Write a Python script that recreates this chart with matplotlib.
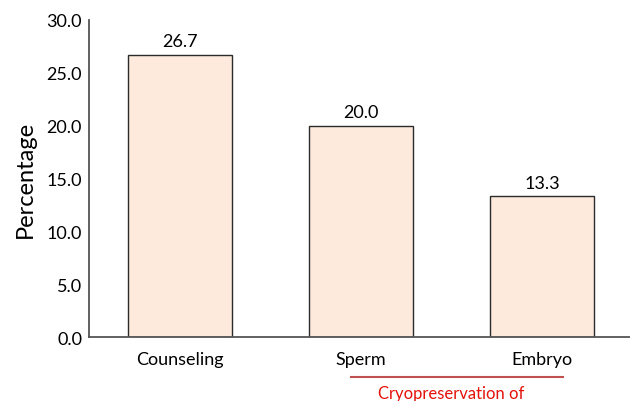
import matplotlib.pyplot as plt
import numpy as np

categories = ["Counseling", "Sperm", "Embryo"]
percentages = [26.7, 20.0, 13.3]
yticks = [0, 5, 10, 15, 20, 25, 30]
group_label = "Cryopreservation of"

plt.rcParams['font.family'] = ['Lato', 'DejaVu Sans']

fig = plt.figure(figsize=(6.3, 4.02), dpi=100)
ax = fig.add_axes([0.1413, 0.1592, 0.8587, 0.7886])

x = np.arange(len(categories))
bars = ax.bar(x, percentages, width=0.575, color="#fdeadc",
              edgecolor="#2b2b2b", linewidth=1.0)

for xi, v in zip(x, percentages):
    ax.text(xi, v + 0.55, f"{v:.1f}", ha="center", va="bottom", fontsize=13)

ax.set_xlim(-0.503, 2.486)
ax.set_ylim(0, 30)
ax.set_xticks(x)
ax.set_xticklabels(categories, fontsize=13)
ax.set_yticks(yticks)
ax.set_yticklabels([f"{t:.1f}" for t in yticks], fontsize=13)
ax.tick_params(length=0, pad=5)
ax.tick_params(axis='x', pad=10)
ax.set_ylabel("Percentage", fontsize=17, labelpad=8)

for side in ["top", "right"]:
    ax.spines[side].set_visible(False)
for side in ["left", "bottom"]:
    ax.spines[side].set_color("#555555")
    ax.spines[side].set_linewidth(1.3)

# bracket line under the two cryopreservation bars
trans = ax.get_xaxis_transform()
ax.plot([x[1] - 0.055, x[2] + 0.116], [-0.126, -0.126], color="#c0504d",
        linewidth=1.5, transform=trans, clip_on=False)
ax.text(1.497, -0.177, group_label, color="#e3120b",
        ha="center", va="center", fontsize=12, transform=trans)

plt.savefig("out.png", dpi=100)
